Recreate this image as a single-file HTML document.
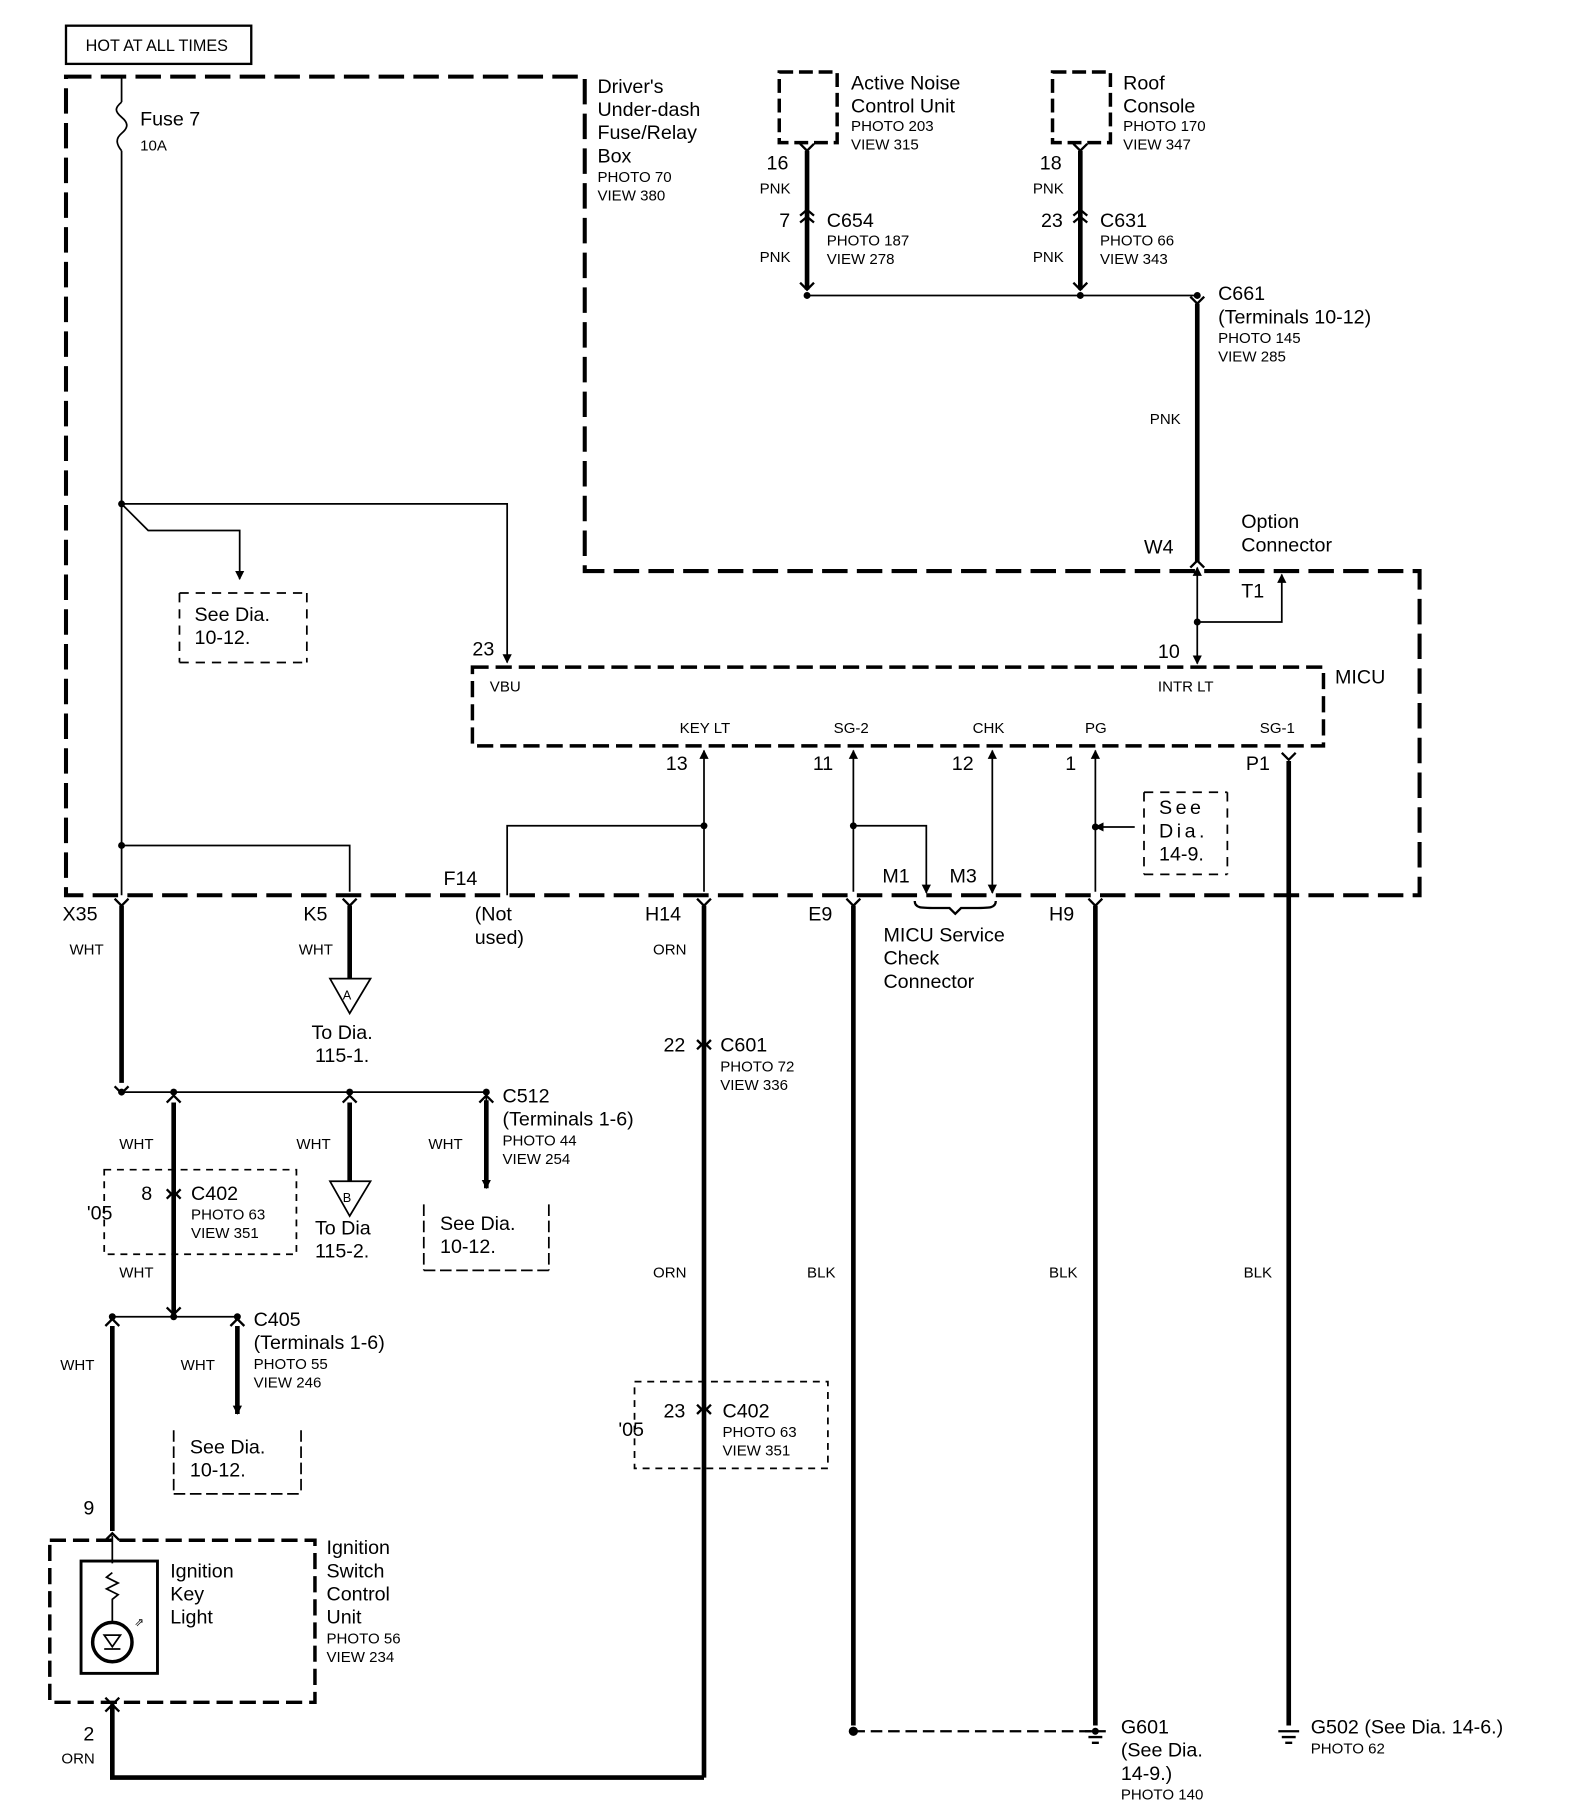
<!DOCTYPE html>
<html><head><style>
html,body{margin:0;padding:0;background:#fff}
svg{display:block}
text{font-family:"Liberation Sans",sans-serif;fill:#000}
.b{font-size:17px}.s{font-size:13px}
</style></head><body>
<svg width="1584" height="1816" viewBox="0 0 1368 1568" xmlns="http://www.w3.org/2000/svg">
<defs>
<marker id="ar" viewBox="0 0 10 10" refX="9" refY="5" markerWidth="8" markerHeight="8" markerUnits="userSpaceOnUse" orient="auto-start-reverse"><path d="M0,0L10,5L0,10z" fill="#000"/></marker>
<marker id="ar2" viewBox="0 0 10 10" refX="9" refY="5" markerWidth="12" markerHeight="10" markerUnits="userSpaceOnUse" orient="auto-start-reverse"><path d="M0,0L10,5L0,10z" fill="#000"/></marker>
</defs>
<g fill="none" stroke="#000">
<rect x="57" y="22" width="160" height="33" stroke-width="2"/>
<path d="M57,66H505V493H1226V773H57Z" stroke-width="3.5" stroke-dasharray="22,8"/>
<path d="M105,66V88M105,130V773" stroke-width="1.5"/>
<path d="M105,88c-6,5 -6,8 0,13c6,5 6,9 0,14c-6,5 -4,10 0,15" stroke-width="1.5"/>
<path d="M105,435L128,458H207V500" stroke-width="1.5" marker-end="url(#ar)"/>
<path d="M105,435H438V572" stroke-width="1.5" marker-end="url(#ar)"/>
<path d="M155,512V572M265,512V572M155,512H265M155,572H265" stroke-width="1.5" stroke-dasharray="8,6"/>
<path d="M105,730H302V770" stroke-width="1.5"/>
<rect x="408" y="576" width="735" height="68" stroke-width="3" stroke-dasharray="14,6"/>
<rect x="673" y="62" width="50" height="61" stroke-width="3" stroke-dasharray="12,5"/>
<rect x="909" y="62" width="50" height="61" stroke-width="3" stroke-dasharray="12,5"/>
<path d="M697,130V250M933,130V250M1034,262V485" stroke-width="4"/>
<path d="M697,255H1034" stroke-width="1.5"/>
<path d="M1034,490V573" stroke-width="1.5" marker-start="url(#ar)" marker-end="url(#ar)"/>
<path d="M1034,537H1107V496" stroke-width="1.5" marker-end="url(#ar)"/>
<path d="M608,770V648" stroke-width="1.5" marker-end="url(#ar)"/>
<path d="M438,773V713H608" stroke-width="1.5"/>
<path d="M737,770V648" stroke-width="1.5" marker-end="url(#ar)"/>
<path d="M737,713H800V771" stroke-width="1.5" marker-end="url(#ar)"/>
<path d="M857,648V771" stroke-width="1.5" marker-start="url(#ar)" marker-end="url(#ar)"/>
<path d="M946,770V648" stroke-width="1.5" marker-end="url(#ar)"/>
<path d="M946,714H980" stroke-width="1.5" marker-start="url(#ar)"/>
<path d="M988,684V755M1060,684V755M988,684H1060M988,755H1060" stroke-width="1.5" stroke-dasharray="8,6"/>
<path d="M790,778c0,6 5,6 18,6h12l5,5l5,-5h12c13,0 18,0 18,-6" stroke-width="2"/>
<path d="M105,782V935M302,782V845M608,782V1535M737,782V1490M946,782V1490M1113,657V1490" stroke-width="4"/>
<path d="M285,845H320L302,875Z" stroke-width="1.5"/>
<path d="M105,943H420V1000" stroke-width="1.5"/>
<path d="M420,950V1026" stroke-width="4" marker-end="url(#ar)"/>
<path d="M150,952V1135M302,952V1020" stroke-width="4"/>
<path d="M285,1020H320L302,1050Z" stroke-width="1.5"/>
<path d="M90,1010H256V1083H90Z" stroke-width="1.5" stroke-dasharray="6,5"/>
<path d="M366,1040V1097M474,1040V1097M366,1097H474" stroke-width="1.5" stroke-dasharray="10,4"/>
<path d="M97,1137H205" stroke-width="1.5"/>
<path d="M97,1145V1322M205,1145V1221" stroke-width="4" marker-end="url(#ar)"/>
<path d="M150,1235V1290M260,1235V1290M150,1290H260" stroke-width="1.5" stroke-dasharray="10,4"/>
<rect x="43" y="1330" width="229" height="140" stroke-width="3" stroke-dasharray="14,6"/>
<rect x="70" y="1348" width="66" height="97" stroke-width="2.5"/>
<path d="M97,1326V1350M97,1358l-5,4l10,5l-10,5l10,5l-5,4V1400" stroke-width="1.5"/>
<circle cx="97" cy="1418" r="17" stroke-width="3"/>
<path d="M90,1412H104L97,1422ZM90,1424H104" stroke-width="1.5"/>
<path d="M97,1472V1535H608" stroke-width="4"/>
<path d="M548,1193H715V1268H548Z" stroke-width="1.5" stroke-dasharray="6,5"/>
<path d="M737,1495H946" stroke-width="2" stroke-dasharray="10,5"/>
<path d="M937,1495H955M940,1500H952M943,1505H949M1104,1495H1122M1107,1500H1119M1110,1505H1116" stroke-width="2"/>
<!-- connector chevrons -->
<g stroke-width="2">
<path d="M691,124L697,130L703,124M691,244L697,250L703,244M691,186L697,181L703,186M691,192L697,187L703,192"/>
<path d="M927,124L933,130L939,124M927,244L933,250L939,244M927,186L933,181L939,186M927,192L933,187L939,192"/>
<path d="M1028,256L1034,262L1040,256M1028,490L1034,484L1040,490"/>
<path d="M99,776L105,782L111,776M296,776L302,782L308,776M602,776L608,782L614,776M731,776L737,782L743,776M940,776L946,782L952,776M1107,650L1113,656L1119,650"/>
<path d="M99,938L105,944L111,938M144,952L150,946L156,952M296,952L302,946L308,952M414,952L420,946L426,952"/>
<path d="M602,898L608,904L614,898M602,906L608,900L614,906"/>
<path d="M144,1027L150,1033L156,1027M144,1035L150,1029L156,1035"/>
<path d="M144,1129L150,1135L156,1129M91,1145L97,1139L103,1145M199,1145L205,1139L211,1145"/>
<path d="M602,1213L608,1219L614,1213M602,1221L608,1215L614,1221"/>
<path d="M91,1330L97,1324L103,1330M91,1466L97,1472L103,1466M91,1478L97,1472L103,1478"/>
</g>
</g>
<g fill="#000">
<circle cx="105" cy="435" r="3"/><circle cx="105" cy="730" r="3"/><circle cx="697" cy="255" r="3"/><circle cx="933" cy="255" r="3"/>
<circle cx="1034" cy="537" r="3"/><circle cx="608" cy="713" r="3"/><circle cx="737" cy="713" r="3"/><circle cx="946" cy="714" r="3"/>
<circle cx="105" cy="943" r="3"/><circle cx="150" cy="943" r="3"/><circle cx="302" cy="943" r="3"/><circle cx="420" cy="943" r="3"/>
<circle cx="97" cy="1137" r="3"/><circle cx="150" cy="1137" r="3"/><circle cx="205" cy="1137" r="3"/>
<circle cx="737" cy="1495" r="4"/><circle cx="946" cy="1495" r="3"/><circle cx="1034" cy="255" r="3"/>
</g>
<text x="74" y="44" class="s" style="font-size:14px">HOT AT ALL TIMES</text>
<text x="121" y="108" class="b">Fuse 7</text><text x="121" y="130" class="s">10A</text>
<text class="b"><tspan x="516" y="80">Driver's</tspan><tspan x="516" y="100">Under-dash</tspan><tspan x="516" y="120">Fuse/Relay</tspan><tspan x="516" y="140">Box</tspan></text>
<text class="s"><tspan x="516" y="157">PHOTO 70</tspan><tspan x="516" y="173">VIEW 380</tspan></text>
<text class="b"><tspan x="735" y="77">Active Noise</tspan><tspan x="735" y="97">Control Unit</tspan></text>
<text class="s"><tspan x="735" y="113">PHOTO 203</tspan><tspan x="735" y="129">VIEW 315</tspan></text>
<text class="b"><tspan x="970" y="77">Roof</tspan><tspan x="970" y="97">Console</tspan></text>
<text class="s"><tspan x="970" y="113">PHOTO 170</tspan><tspan x="970" y="129">VIEW 347</tspan></text>
<text x="662" y="146" class="b">16</text><text x="656" y="167" class="s">PNK</text>
<text x="673" y="196" class="b">7</text><text x="714" y="196" class="b">C654</text>
<text class="s"><tspan x="714" y="212">PHOTO 187</tspan><tspan x="714" y="228">VIEW 278</tspan></text>
<text x="656" y="226" class="s">PNK</text>
<text x="898" y="146" class="b">18</text><text x="892" y="167" class="s">PNK</text>
<text x="899" y="196" class="b">23</text><text x="950" y="196" class="b">C631</text>
<text class="s"><tspan x="950" y="212">PHOTO 66</tspan><tspan x="950" y="228">VIEW 343</tspan></text>
<text x="892" y="226" class="s">PNK</text>
<text class="b"><tspan x="1052" y="259">C661</tspan><tspan x="1052" y="279">(Terminals 10-12)</tspan></text>
<text class="s"><tspan x="1052" y="296">PHOTO 145</tspan><tspan x="1052" y="312">VIEW 285</tspan></text>
<text x="993" y="366" class="s">PNK</text>
<text class="b"><tspan x="1072" y="456">Option</tspan><tspan x="1072" y="476">Connector</tspan></text>
<text x="988" y="478" class="b">W4</text><text x="1072" y="516" class="b">T1</text>
<text x="1000" y="568" class="b">10</text><text x="408" y="566" class="b">23</text>
<text x="1153" y="590" class="b">MICU</text>
<text class="s"><tspan x="423" y="597">VBU</tspan><tspan x="1000" y="597">INTR LT</tspan><tspan x="587" y="633">KEY LT</tspan><tspan x="720" y="633">SG-2</tspan><tspan x="840" y="633">CHK</tspan><tspan x="937" y="633">PG</tspan><tspan x="1088" y="633">SG-1</tspan></text>
<text class="b"><tspan x="168" y="536">See Dia.</tspan><tspan x="168" y="556">10-12.</tspan></text>
<text x="575" y="665" class="b">13</text><text x="702" y="665" class="b">11</text><text x="822" y="665" class="b">12</text><text x="920" y="665" class="b">1</text><text x="1076" y="665" class="b">P1</text>
<text class="b" style="letter-spacing:3px"><tspan x="1001" y="703">See</tspan><tspan x="1001" y="723">Dia.</tspan></text><text x="1001" y="743" class="b">14-9.</text>
<text x="762" y="762" class="b">M1</text><text x="820" y="762" class="b">M3</text><text x="383" y="764" class="b">F14</text>
<text x="54" y="795" class="b">X35</text><text x="262" y="795" class="b">K5</text>
<text class="b"><tspan x="410" y="795">(Not</tspan><tspan x="410" y="815">used)</tspan></text>
<text x="557" y="795" class="b">H14</text><text x="698" y="795" class="b">E9</text><text x="906" y="795" class="b">H9</text>
<text class="b"><tspan x="763" y="813">MICU Service</tspan><tspan x="763" y="833">Check</tspan><tspan x="763" y="853">Connector</tspan></text>
<text x="60" y="824" class="s">WHT</text><text x="258" y="824" class="s">WHT</text><text x="564" y="824" class="s">ORN</text>
<text x="296" y="863" class="s" style="font-size:11px">A</text><text x="296" y="1038" class="s" style="font-size:11px">B</text>
<text class="b"><tspan x="269" y="897">To Dia.</tspan><tspan x="272" y="917">115-1.</tspan></text>
<text x="573" y="908" class="b">22</text><text x="622" y="908" class="b">C601</text>
<text class="s"><tspan x="622" y="925">PHOTO 72</tspan><tspan x="622" y="941">VIEW 336</tspan></text>
<text class="b"><tspan x="434" y="952">C512</tspan><tspan x="434" y="972">(Terminals 1-6)</tspan></text>
<text class="s"><tspan x="434" y="989">PHOTO 44</tspan><tspan x="434" y="1005">VIEW 254</tspan></text>
<text x="103" y="992" class="s">WHT</text><text x="256" y="992" class="s">WHT</text><text x="370" y="992" class="s">WHT</text>
<text x="122" y="1036" class="b">8</text><text x="165" y="1036" class="b">C402</text>
<text class="s"><tspan x="165" y="1053">PHOTO 63</tspan><tspan x="165" y="1069">VIEW 351</tspan></text>
<text x="75" y="1053" class="b">'05</text>
<text class="b"><tspan x="272" y="1066">To Dia</tspan><tspan x="272" y="1086">115-2.</tspan></text>
<text class="b"><tspan x="380" y="1062">See Dia.</tspan><tspan x="380" y="1082">10-12.</tspan></text>
<text x="103" y="1103" class="s">WHT</text><text x="564" y="1103" class="s">ORN</text><text x="697" y="1103" class="s">BLK</text><text x="906" y="1103" class="s">BLK</text><text x="1074" y="1103" class="s">BLK</text>
<text class="b"><tspan x="219" y="1145">C405</tspan><tspan x="219" y="1165">(Terminals 1-6)</tspan></text>
<text class="s"><tspan x="219" y="1182">PHOTO 55</tspan><tspan x="219" y="1198">VIEW 246</tspan></text>
<text x="52" y="1183" class="s">WHT</text><text x="156" y="1183" class="s">WHT</text>
<text x="573" y="1224" class="b">23</text><text x="624" y="1224" class="b">C402</text>
<text class="s"><tspan x="624" y="1241">PHOTO 63</tspan><tspan x="624" y="1257">VIEW 351</tspan></text>
<text x="534" y="1240" class="b">'05</text>
<text class="b"><tspan x="164" y="1255">See Dia.</tspan><tspan x="164" y="1275">10-12.</tspan></text>
<text x="72" y="1308" class="b">9</text>
<text class="b"><tspan x="282" y="1342">Ignition</tspan><tspan x="282" y="1362">Switch</tspan><tspan x="282" y="1382">Control</tspan><tspan x="282" y="1402">Unit</tspan></text>
<text class="s"><tspan x="282" y="1419">PHOTO 56</tspan><tspan x="282" y="1435">VIEW 234</tspan></text>
<text class="b"><tspan x="147" y="1362">Ignition</tspan><tspan x="147" y="1382">Key</tspan><tspan x="147" y="1402">Light</tspan></text>
<text x="116" y="1404" class="s" style="font-size:10px">⇗</text>
<text x="72" y="1503" class="b">2</text><text x="53" y="1523" class="s">ORN</text>
<text class="b"><tspan x="968" y="1497">G601</tspan><tspan x="968" y="1517">(See Dia.</tspan><tspan x="968" y="1537">14-9.)</tspan></text>
<text x="968" y="1554" class="s">PHOTO 140</text>
<text x="1132" y="1497" class="b">G502 (See Dia.  14-6.)</text>
<text x="1132" y="1514" class="s">PHOTO 62</text>
</svg>
</body></html>
